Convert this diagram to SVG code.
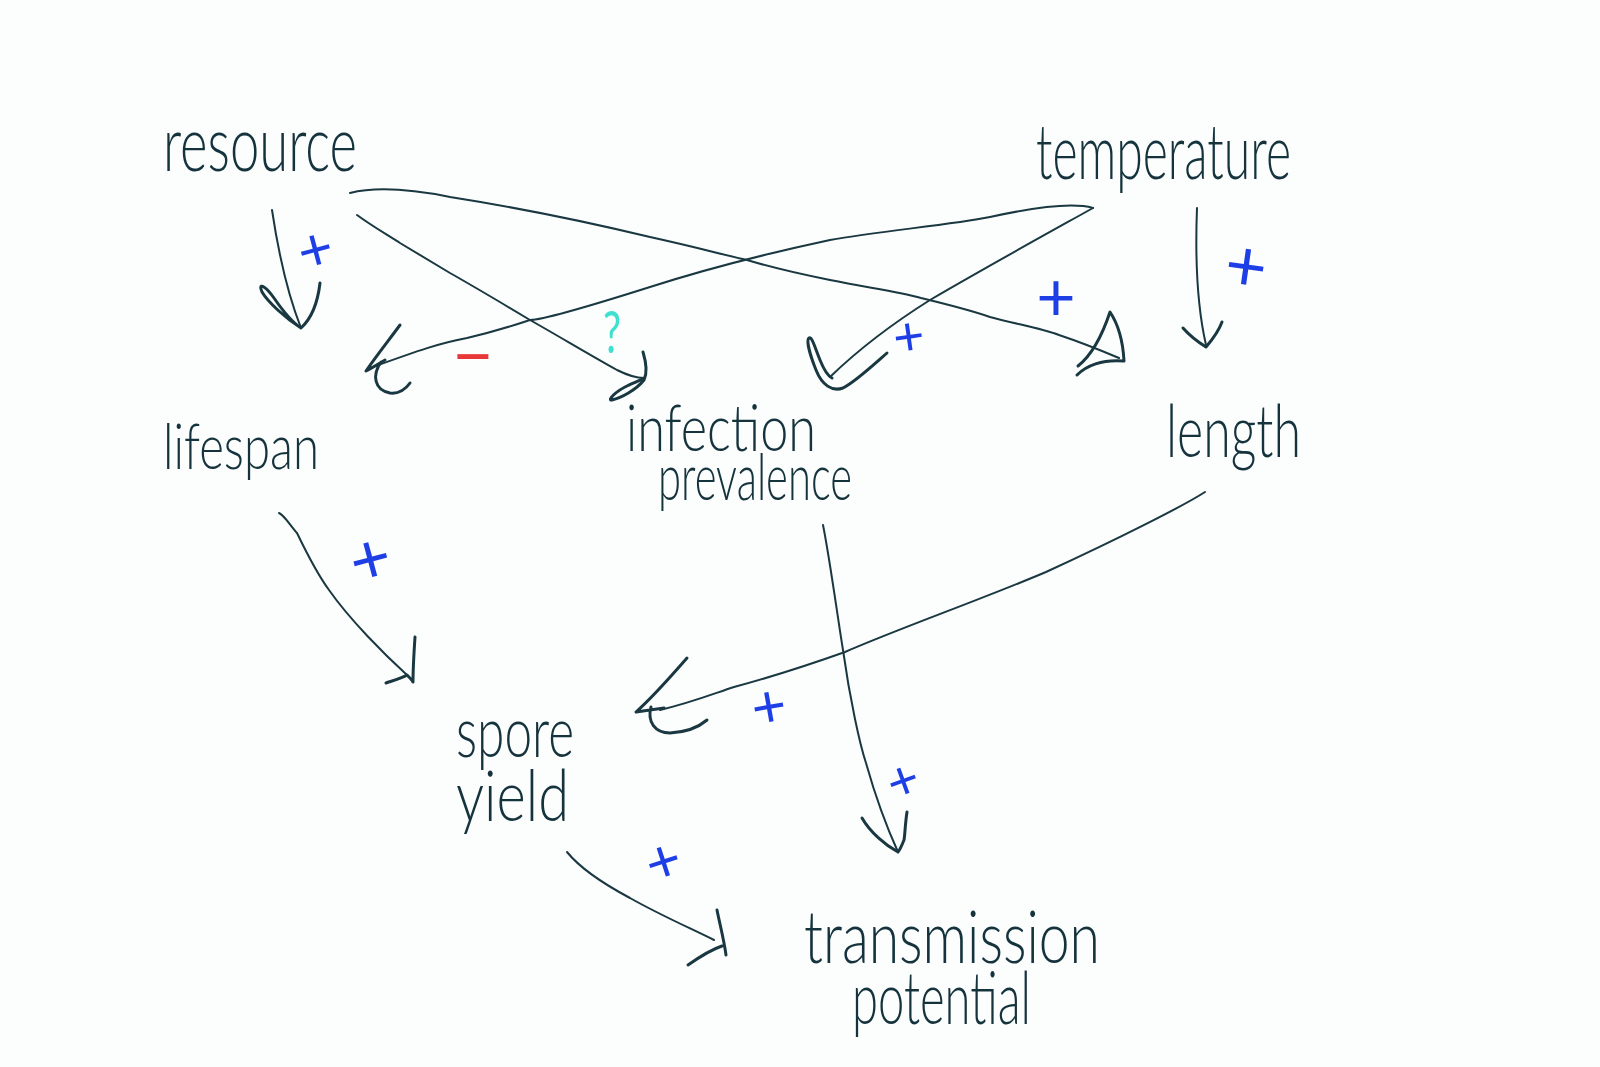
<svg xmlns="http://www.w3.org/2000/svg" width="1600" height="1067" viewBox="0 0 1600 1067">
<style>
.lbl{font-family:Lato,"Liberation Sans","DejaVu Sans",sans-serif;font-weight:300;fill:#15333d}
.c{fill:none;stroke:#1a3841;stroke-width:2;stroke-linecap:round;stroke-linejoin:round}
.h{fill:none;stroke:#1a3841;stroke-width:3;stroke-linecap:round;stroke-linejoin:round}
.plus{font-family:Lato,"Liberation Sans","DejaVu Sans",sans-serif;font-weight:400;fill:#1f3fe6;text-anchor:middle}
.minus{font-family:Lato,"Liberation Sans","DejaVu Sans",sans-serif;font-weight:400;fill:#e8383a;text-anchor:middle}
.q{font-family:Lato,"Liberation Sans","DejaVu Sans",sans-serif;font-weight:400;fill:#3fe0cf}
</style>
<rect width="1600" height="1067" fill="#fcfdfd"/>
<g id="resource"><text class="lbl" x="163" y="171" font-size="76" textLength="194" lengthAdjust="spacingAndGlyphs">resource</text></g>
<g id="temperature"><text class="lbl" x="1036" y="179" font-size="76" textLength="255" lengthAdjust="spacingAndGlyphs">temperature</text></g>
<g id="lifespan"><text class="lbl" x="163" y="469" font-size="64" textLength="156" lengthAdjust="spacingAndGlyphs">lifespan</text></g>
<g id="infection-prevalence"><text class="lbl" font-size="66"><tspan x="626" y="451" textLength="190" lengthAdjust="spacingAndGlyphs">infection</tspan><tspan x="658" y="500" textLength="194" lengthAdjust="spacingAndGlyphs">prevalence</tspan></text></g>
<g id="length"><text class="lbl" x="1166" y="457" font-size="72" textLength="135" lengthAdjust="spacingAndGlyphs">length</text></g>
<g id="spore-yield"><text class="lbl" font-size="71"><tspan x="456" y="757" textLength="118" lengthAdjust="spacingAndGlyphs">spore</tspan><tspan x="456" y="821" textLength="113" lengthAdjust="spacingAndGlyphs">yield</tspan></text></g>
<g id="transmission-potential"><text class="lbl" font-size="73"><tspan x="804" y="963" textLength="296" lengthAdjust="spacingAndGlyphs">transmission</tspan><tspan x="852" y="1024" textLength="179" lengthAdjust="spacingAndGlyphs">potential</tspan></text></g>
<g id="connectors">
<path class="c" d="M272,210 C278,250 288,295 301,328"/>
<path class="h" d="M301,328 C285,318 268,302 262,292 C258,283 264,284 274,298 C285,314 295,324 301,328 M320,283 C318,300 312,318 301,328"/>
<path class="c" d="M350,193 C370,188 400,187 450,197 C520,208 600,225 650,237 C700,248 720,254 747,260 C780,270 800,274 830,280 C870,288 900,292 921,298 C950,305 970,310 990,317 C1020,325 1040,328 1059,335 C1080,342 1100,350 1119,358"/>
<path class="h" d="M1077,375 C1086,366 1102,359 1124,361 C1123,342 1118,324 1110,312 C1102,336 1092,355 1078,366"/>
<path class="c" d="M357,215 C372,226 386,234 400,243 C420,255 435,264 450,273 C480,290 505,305 530,320 C560,337 590,355 617,370 C627,375 636,378 644,378"/>
<path class="h" d="M643,352 C646,362 648,372 644,380 C636,390 621,398 612,400 C607,401 614,392 629,385 C636,382 641,380 644,378"/>
<path class="c" d="M1093,208 C1075,203 1040,206 990,217 C950,225 880,231 830,240 C760,255 700,271 650,287 C590,306 540,320 530,320 C500,330 480,335 467,338 C440,343 420,350 370,368"/>
<path class="h" d="M400,325 C389,340 377,355 366,371 C372,368 378,364 385,360 M381,362 C372,375 374,390 390,393 C399,394 405,390 410,383"/>
<path class="c" d="M1093,208 C1050,232 990,265 930,300 C895,322 860,348 830,377"/>
<path class="h" d="M887,353 C870,368 855,382 843,388 C832,392 822,385 816,370 C810,355 806,340 809,338 C812,336 815,348 820,360 C824,370 828,376 832,378"/>
<path class="c" d="M1197,208 C1195,260 1198,310 1206,345"/>
<path class="h" d="M1183,328 C1190,336 1198,342 1206,347 C1212,340 1218,333 1222,322"/>
<path class="c" d="M279,513 C284,515 290,525 297,533 C310,560 318,575 329,590 C350,620 385,655 407,675"/>
<path class="h" d="M415,637 C414,652 413,668 413,682 M386,683 C395,680 402,678 407,675 C410,678 412,680 413,682"/>
<path class="c" d="M1205,492 C1185,505 1120,538 1046,572 C980,600 900,628 845,652 C800,668 760,680 734,687 C710,695 690,703 660,710"/>
<path class="h" d="M687,658 C672,675 655,695 636,712 L664,708 M651,707 C647,722 655,733 670,733 C688,732 700,726 707,720"/>
<path class="c" d="M823,525 C830,560 838,620 843,650 C850,700 860,745 866,763 C875,795 888,830 898,852"/>
<path class="h" d="M862,818 C870,832 885,845 898,852 M907,812 C905,825 905,835 904,840 C902,845 900,850 898,852"/>
<path class="c" d="M567,852 C580,868 600,882 630,898 C660,915 690,928 714,940"/>
<path class="h" d="M717,910 C720,925 724,940 726,955 M688,965 C698,958 710,950 722,946"/>
</g>
<g id="edge-labels">
<text class="plus" x="316" y="270" font-size="60" transform="rotate(-15 316 252)">+</text>
<text class="plus" x="1056" y="321" font-size="68">+</text>
<text class="plus" x="909" y="355" font-size="54" transform="rotate(-8 909 338)">+</text>
<text class="plus" x="1246" y="291" font-size="72" transform="rotate(8 1246 268)">+</text>
<text class="plus" x="370" y="583" font-size="70" transform="rotate(-15 370 558)">+</text>
<text class="plus" x="769" y="727" font-size="60" transform="rotate(-10 769 707)">+</text>
<text class="plus" x="903" y="799" font-size="54" transform="rotate(-20 903 781)">+</text>
<text class="plus" x="663" y="882" font-size="60" transform="rotate(-18 663 861)">+</text>
<text class="minus" x="473" y="381" font-size="72">−</text>
<text class="q" x="603" y="353" font-size="58" textLength="18" lengthAdjust="spacingAndGlyphs">?</text>
</g>
</svg>
